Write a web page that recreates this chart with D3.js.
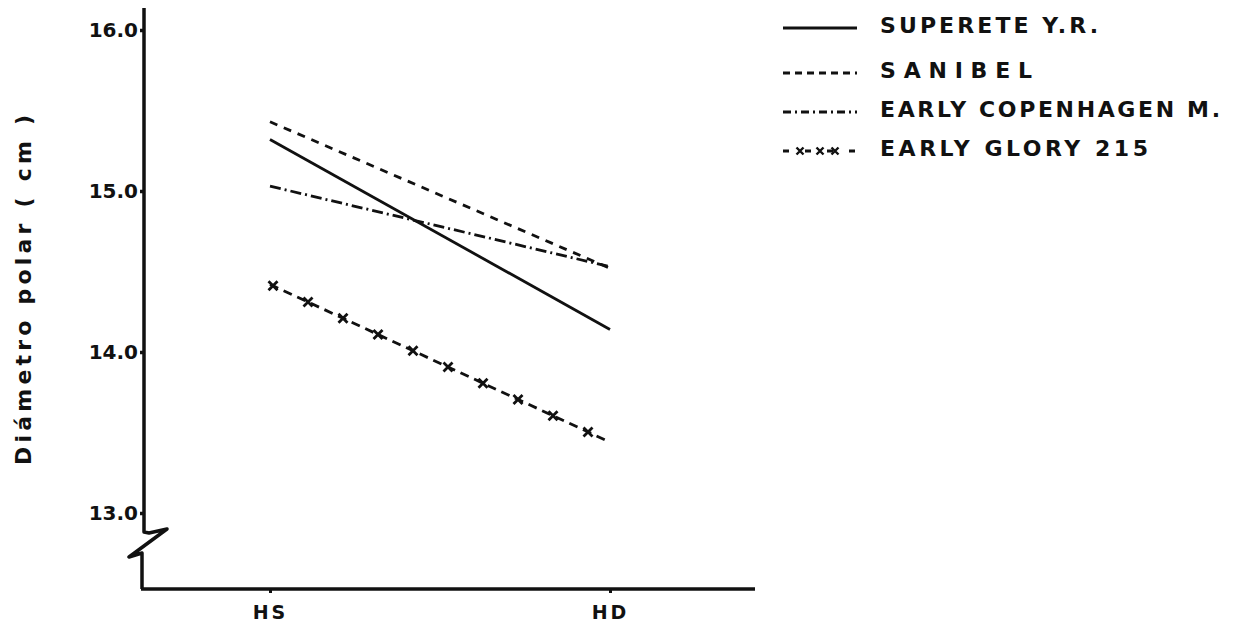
<!DOCTYPE html>
<html>
<head>
<meta charset="utf-8">
<script src="https://cdn.jsdelivr.net/npm/d3@7"></script>
<style>
  body { margin: 0; background: #fff; }
  text { font-family: 'DejaVu Sans', sans-serif; font-weight: bold; fill: #111; }
</style>
</head>
<body>
<svg id="chart"></svg>
<script>
var width = 1233,
  height = 630;

// data
var categories = ['HS', 'HD'];
var series = ['SUPERETE Y.R.', 'SANIBEL', 'EARLY COPENHAGEN M.', 'EARLY GLORY 215'];
var superete = [15.32, 14.14];
var sanibel = [15.43, 14.52];
var copenhagen = [15.03, 14.53];
var glory = [14.42, 13.44];
var yTicks = [13, 14, 15, 16];
var yTickLabels = ['13.0', '14.0', '15.0', '16.0'];

var values = [superete, sanibel, copenhagen, glory];
var dashes = [null, '8,7', '11,4,2,4', '9,6'];

var svg = d3.select('#chart')
  .attr('width', width)
  .attr('height', height);

var x = d3.scalePoint()
  .domain(categories)
  .range([270, 610]);

var y = d3.scaleLinear()
  .domain([13, 16])
  .range([513, 30]);

var axisX = 144,
  axisY = 589;

// y axis with the break symbol
svg.append('path')
  .attr('d', 'M' + axisX + ',8 L' + axisX + ',532 L149,533 L167,529 L129,557 L142,553 L142,' + axisY)
  .attr('fill', 'none')
  .attr('stroke', '#111')
  .attr('stroke-width', 3.5)
  .attr('stroke-linejoin', 'round');

// x axis
svg.append('line')
  .attr('x1', 141).attr('x2', 755)
  .attr('y1', axisY).attr('y2', axisY)
  .attr('stroke', '#111')
  .attr('stroke-width', 3.5);

var gy = svg.append('g')
  .attr('transform', 'translate(' + axisX + ',0)')
  .call(d3.axisLeft(y)
    .tickValues(yTicks)
    .tickSize(4)
    .tickFormat(function(d, i) { return yTickLabels[i]; }));
gy.select('.domain').remove();
gy.selectAll('.tick line').attr('stroke', '#111').attr('stroke-width', 3.5);
gy.selectAll('.tick text')
  .attr('x', -6)
  .style('font-size', '20px')
  .style('font-family', "'DejaVu Sans', sans-serif")
  .style('font-weight', 'bold')
  .attr('fill', '#111');

var gx = svg.append('g')
  .attr('transform', 'translate(0,' + axisY + ')')
  .call(d3.axisBottom(x).tickSize(4).tickPadding(13));
gx.select('.domain').remove();
gx.selectAll('.tick line').attr('stroke', '#111').attr('stroke-width', 3);
gx.selectAll('.tick text')
  .style('font-size', '19px')
  .style('font-family', "'DejaVu Sans', sans-serif")
  .style('font-weight', 'bold')
  .attr('letter-spacing', '3px')
  .attr('fill', '#111');

// y axis title
svg.append('text')
  .attr('transform', 'translate(31,290) rotate(-90)')
  .attr('text-anchor', 'middle')
  .style('font-size', '22px')
  .attr('textLength', 350)
  .attr('lengthAdjust', 'spacing')
  .text('Diámetro polar   ( cm )');

var line = d3.line()
  .x(function(d, i) { return x(categories[i]); })
  .y(function(d) { return y(d); });

var g = svg.append('g');

g.selectAll('path.series')
  .data(values)
  .enter().append('path')
  .attr('class', 'series')
  .attr('d', line)
  .attr('fill', 'none')
  .attr('stroke', '#111')
  .attr('stroke-width', 2.8)
  .attr('stroke-dasharray', function(d, i) { return dashes[i]; });

// x markers along the Early Glory line
function crossPath(cx, cy, s) {
  return 'M' + (cx - s) + ',' + (cy - s) + 'L' + (cx + s) + ',' + (cy + s) +
    'M' + (cx - s) + ',' + (cy + s) + 'L' + (cx + s) + ',' + (cy - s);
}
var x0 = x(categories[0]), x1 = x(categories[1]);
var interp = d3.interpolateNumber(y(glory[0]), y(glory[1]));
var marks = d3.range(x0 + 3, x1 - 18, 35);
g.selectAll('path.mark')
  .data(marks)
  .enter().append('path')
  .attr('class', 'mark')
  .attr('d', function(d) { return crossPath(d, interp((d - x0) / (x1 - x0)), 4.5); })
  .attr('stroke', '#111')
  .attr('stroke-width', 2.8);

// legend
var legendRows = [25, 70, 109, 148];
var legendTextLength = [218, 152, 340, 268];
var legend = svg.append('g')
  .selectAll('g')
  .data(series)
  .enter().append('g')
  .attr('transform', function(d, i) { return 'translate(783,' + legendRows[i] + ')'; });

legend.append('line')
  .attr('x1', 0).attr('x2', 74)
  .attr('y1', 3).attr('y2', 3)
  .attr('stroke', '#111')
  .attr('stroke-width', 2.8)
  .attr('stroke-dasharray', function(d, i) { return dashes[i] ? (i === 3 ? '6,16' : (i === 1 ? '7,5' : '8,4,2,4')) : null; });

legend.filter(function(d, i) { return i === 3; })
  .selectAll('path')
  .data([17, 37, 52])
  .enter().append('path')
  .attr('d', function(d) { return crossPath(d, 3, 3.5); })
  .attr('stroke', '#111')
  .attr('stroke-width', 2.4);

legend.append('text')
  .attr('x', 97)
  .attr('y', 0)
  .attr('dy', '0.35em')
  .style('font-size', '22px')
  .attr('textLength', function(d, i) { return legendTextLength[i]; })
  .attr('lengthAdjust', 'spacing')
  .text(function(d) { return d; });
</script>
</body>
</html>
